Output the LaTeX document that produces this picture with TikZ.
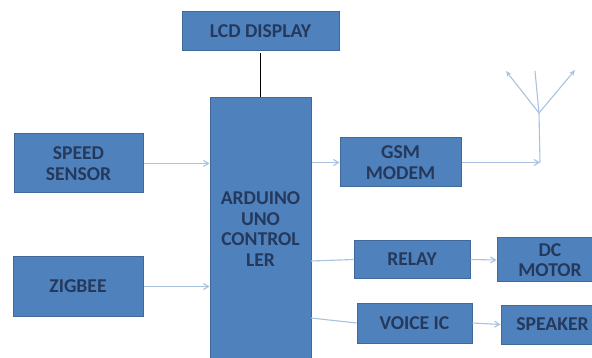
\documentclass[tikz,border=0pt]{standalone}
\usepackage{fontspec}
\setmainfont{Carlito}
\usetikzlibrary{arrows.meta}
\definecolor{boxfill}{HTML}{4F81BD}
\definecolor{boxline}{HTML}{41689A}
\definecolor{boxtext}{HTML}{24395C}
\definecolor{wire}{HTML}{A9C2E0}
\tikzset{
  blockbox/.style={draw=boxline,line width=1pt,fill=boxfill,text=boxtext,align=center,inner sep=0pt,
    font=\fontsize{19.6}{20.7}\selectfont\bfseries},
  blocklabel/.style={text=boxtext,align=center,inner sep=0pt,font=\fontsize{19.6}{20.7}\selectfont\bfseries},
  wirearrow/.style={draw=wire,line width=1.1pt,-{Straight Barb[length=5pt,width=6pt]}},
  wireplain/.style={draw=wire,line width=1.1pt},
  blackwire/.style={draw=black,line width=1.8pt}
}
\begin{document}
\begin{tikzpicture}[x=1pt,y=-1pt]
\useasboundingbox (0,0) rectangle (592,358);
\clip (0,0) rectangle (592,358);
\node[blockbox,minimum width=157pt,minimum height=39pt] (lcd) at (260.5,31.5) {LCD DISPLAY};
\node[blockbox,minimum width=101pt,minimum height=264pt] (ard) at (260.5,230) {};
\node[blocklabel] (ardtext) at (260.5,229) {ARDUINO\\UNO\\CONTROL\\LER};
\node[blockbox,minimum width=129pt,minimum height=59pt] (speed) at (78.5,163.5) {SPEED\\SENSOR};
\node[blockbox,minimum width=130pt,minimum height=59pt] (zig) at (78,286.5) {ZIGBEE};
\node[blockbox,minimum width=121pt,minimum height=49pt] (gsm) at (400.5,162.5) {GSM\\MODEM};
\node[blockbox,minimum width=116pt,minimum height=38pt] (relay) at (412,259.5) {RELAY};
\node[blockbox,minimum width=106pt,minimum height=44pt] (dc) at (550,260) {DC\\MOTOR};
\node[blockbox,minimum width=115pt,minimum height=40pt] (voice) at (414.5,323) {VOICE IC};
\node[blockbox,minimum width=103pt,minimum height=39pt] (spk) at (552.5,324.5) {SPEAKER};
\coordinate (ant) at (540,162.5);
\coordinate (hub) at (539,113);
\coordinate (tipl) at (506,71);
\coordinate (tipm) at (535,71);
\coordinate (tipr) at (575,70);
\coordinate (voiceout) at (311,318);
\coordinate (relayout) at (311,261);
\draw[blackwire] (lcd.south) ++(0,2) -- (ard.north);
\draw[wirearrow] (speed.east) -- (speed.east -| ard.west);
\draw[wirearrow] (zig.east) -- (zig.east -| ard.west);
\draw[wirearrow] (gsm.west -| ard.east) -- (gsm.west);
\draw[wireplain] (relayout) -- (relay.west);
\draw[wireplain] (voiceout) -- (voice.west);
\draw[wirearrow] (relay.east) -- (dc.west);
\draw[wirearrow] (voice.east) -- (spk.west);
\draw[wirearrow] (gsm.east) -- (ant);
\draw[wireplain] (ant) -- (hub);
\draw[wireplain] (hub) -- (tipm);
\draw[wirearrow,-{Stealth[length=6pt,width=5pt]}] (hub) -- (tipl);
\draw[wirearrow,-{Stealth[length=6pt,width=5pt]}] (hub) -- (tipr);
\end{tikzpicture}
\end{document}
